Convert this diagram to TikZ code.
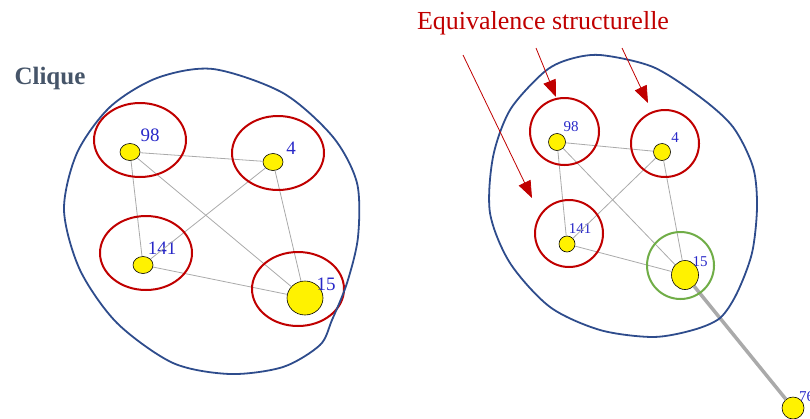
\documentclass[tikz,border=0pt]{standalone}
\usepackage{fontspec}
\setmainfont{Liberation Serif}
\usetikzlibrary{shapes.geometric,arrows.meta}
\definecolor{ringblue}{RGB}{46,76,140}
\definecolor{ringred}{RGB}{192,0,0}
\definecolor{ringgreen}{RGB}{112,173,71}
\definecolor{numblue}{RGB}{40,40,200}
\definecolor{edgegray}{RGB}{170,170,170}
\definecolor{titlegray}{RGB}{70,85,105}
\begin{document}
\begin{tikzpicture}[x=1pt, y=-1pt,
    vert/.style={ellipse, draw=black, line width=0.6pt, fill=yellow, inner sep=0pt},
    numl/.style={text=numblue, inner sep=0pt, font=\fontsize{19}{19}\selectfont},
    numr/.style={text=numblue, inner sep=0pt, font=\fontsize{15}{15}\selectfont},
    tie/.style={draw=edgegray, line width=0.8pt},
    bluering/.style={draw=ringblue, line width=1.8pt},
    redring/.style={draw=ringred, line width=2pt},
    arr/.style={draw=ringred, line width=0.8pt, -{Triangle[length=17pt,width=13pt]}}]
    \useasboundingbox (0,0) rectangle (810,418);

    % Titres
    \node[font=\fontsize{25}{25}\selectfont\bfseries, text=titlegray, anchor=west] (tclique) at (11,78) {Clique};
    \node[font=\fontsize{26}{26}\selectfont, text=ringred] (tequiv) at (543,23) {Equivalence structurelle};

    % Clique (gauche)
    \node[vert, minimum width=20pt, minimum height=17pt] (l98) at (130,152) {};
    \node[vert, minimum width=20pt, minimum height=17pt] (l4) at (273,162) {};
    \node[vert, minimum width=20pt, minimum height=17pt] (l141) at (143,265) {};
    \node[vert, minimum width=36pt, minimum height=34pt] (l15) at (305,298) {};
    \node[numl] (n98) at (150,135) {98};
    \node[numl] (n4) at (291,148) {4};
    \node[numl] (n141) at (162,248) {141};
    \node[numl] (n15) at (326,284) {15};
    \draw[tie] (l98) -- (l4);
    \draw[tie] (l98) -- (l141);
    \draw[tie] (l98) -- (l15);
    \draw[tie] (l4) -- (l141);
    \draw[tie] (l4) -- (l15);
    \draw[tie] (l141) -- (l15);
    \draw[redring] (140,140) ellipse [x radius=46, y radius=37];
    \draw[redring] (278,153) ellipse [x radius=46, y radius=37];
    \draw[redring] (146,253) ellipse [x radius=46, y radius=37];
    \draw[redring] (298,289) ellipse [x radius=46, y radius=37];
    \draw[bluering] plot[smooth cycle, tension=0.5] coordinates {(213,69) (283,93) (333,137) (357,183) (358,237) (347,283) (332,320) (320,345) (283,367) (230,374) (173,363) (117,323) (80,270) (64,210) (77,153) (110,107) (157,78)};

    % Equivalence structurelle (droite)
    \node[vert, minimum size=17pt] (r98) at (557,142) {};
    \node[vert, minimum size=17pt] (r4) at (662,152) {};
    \node[vert, minimum size=16pt] (r141) at (567,244) {};
    \node[vert, minimum width=27pt, minimum height=29pt] (r15) at (685,275) {};
    \node[vert, minimum size=22pt] (r76) at (793,408) {};
    \node[numr] (m98) at (571,127) {98};
    \node[numr] (m4) at (675,138) {4};
    \node[numr] (m141) at (580,229) {141};
    \node[numr] (m15) at (700,262) {15};
    \node[numr, anchor=west] (m76) at (799,397) {76};
    \draw[tie] (r98) -- (r4);
    \draw[tie] (r98) -- (r141);
    \draw[tie] (r98) -- (r15);
    \draw[tie] (r4) -- (r141);
    \draw[tie] (r4) -- (r15);
    \draw[tie] (r141) -- (r15);
    \draw[draw=edgegray, line width=3.5pt] (r15) -- (r76);
    \draw[redring] (564.5,131.5) ellipse [x radius=34.5, y radius=33.5];
    \draw[redring] (665,143.5) ellipse [x radius=34, y radius=33.5];
    \draw[redring] (569,233.5) ellipse [x radius=34, y radius=33.5];
    \draw[draw=ringgreen, line width=2pt] (680.5,265.5) circle [radius=33.5];
    \draw[bluering] plot[smooth cycle, tension=0.5] coordinates {(600,55) (653,67) (700,97) (733,127) (753,167) (757,207) (752,253) (737,293) (720,318) (693,330) (653,337) (600,330) (550,307) (510,263) (490,213) (493,157) (510,110) (543,73) (567,60)};

    % Fleches
    \coordinate (s1) at (463,55);
    \coordinate (e1) at (532,198);
    \coordinate (s2) at (536,48);
    \coordinate (e2) at (556,97);
    \coordinate (s3) at (622,48);
    \coordinate (e3) at (648,103);
    \draw[arr] (s1) -- (e1);
    \draw[arr] (s2) -- (e2);
    \draw[arr] (s3) -- (e3);
\end{tikzpicture}
\end{document}
